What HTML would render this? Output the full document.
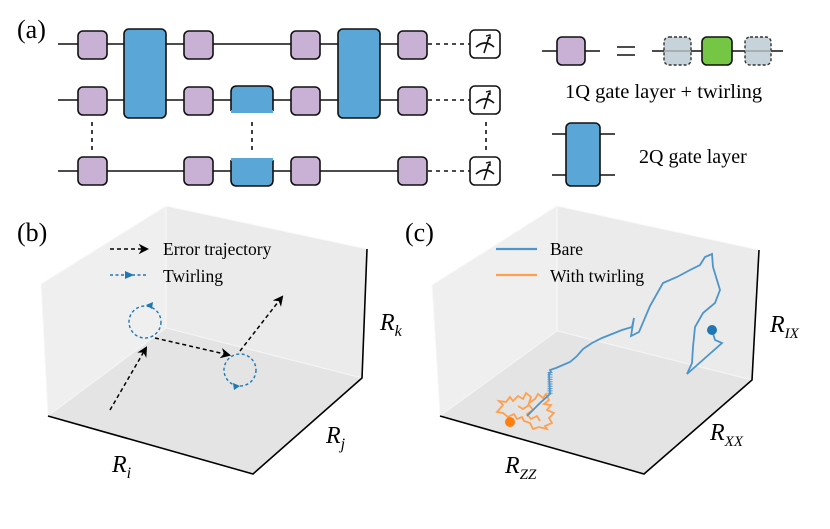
<!DOCTYPE html>
<html><head><meta charset="utf-8"><style>
html,body{margin:0;padding:0;background:#fff;}
svg{display:block;font-family:"Liberation Serif",serif;}
</style></head><body>
<svg width="830" height="529" viewBox="0 0 830 529" xmlns="http://www.w3.org/2000/svg">
<defs>
<g id="pg"><rect x="0" y="0" width="29" height="28" rx="5" fill="#c8b1d5" stroke="#111" stroke-width="1.6"/></g>
<g id="meas"><rect x="0" y="0" width="30" height="28" rx="5" fill="#fff" stroke="#111" stroke-width="1.6"/>
<path d="M6 17 Q15 9 24 17" fill="none" stroke="#111" stroke-width="1.6"/><path d="M14 23 L19 7" stroke="#111" stroke-width="1.6"/><path d="M16 6 L20 5 L20 9" fill="none" stroke="#111" stroke-width="1.4"/></g>
<marker id="ab" viewBox="0 0 10 10" refX="8" refY="5" markerWidth="7" markerHeight="7" orient="auto"><path d="M0 0 L10 5 L0 10 L3 5z" fill="#000"/></marker>
</defs>

<!-- (a) -->
<text x="17" y="38" font-size="26">(a)</text>
<g stroke="#111" stroke-width="1.6">
<line x1="58" y1="44" x2="427" y2="44"/><line x1="58" y1="100" x2="427" y2="100"/><line x1="58" y1="171" x2="427" y2="171"/>
</g>
<g stroke="#111" stroke-width="1.6" stroke-dasharray="4,4">
<line x1="428" y1="44" x2="470" y2="44"/><line x1="428" y1="100" x2="470" y2="100"/><line x1="428" y1="171" x2="470" y2="171"/>
<line x1="92" y1="122" x2="92" y2="152"/><line x1="252" y1="122" x2="252" y2="152"/><line x1="486" y1="122" x2="486" y2="152"/>
</g>
<rect x="124" y="29" width="42" height="89" rx="5" fill="#5aa6d6" stroke="#111" stroke-width="1.6"/>
<rect x="338" y="29" width="42" height="89" rx="5" fill="#5aa6d6" stroke="#111" stroke-width="1.6"/>
<path d="M231 111 L231 92 Q231 86 237 86 L267 86 Q273 86 273 92 L273 111" fill="#5aa6d6" stroke="#111" stroke-width="1.6"/>
<rect x="231" y="110" width="42" height="3" fill="#5aa6d6"/>
<path d="M231 160 L231 180 Q231 186 237 186 L267 186 Q273 186 273 180 L273 160" fill="#5aa6d6" stroke="#111" stroke-width="1.6"/>
<rect x="231" y="158" width="42" height="3" fill="#5aa6d6"/>
<use href="#pg" x="78" y="31"/><use href="#pg" x="184" y="31"/><use href="#pg" x="291" y="31"/><use href="#pg" x="398" y="31"/>
<use href="#pg" x="78" y="87"/><use href="#pg" x="184" y="87"/><use href="#pg" x="291" y="87"/><use href="#pg" x="398" y="87"/>
<use href="#pg" x="78" y="157"/><use href="#pg" x="184" y="157"/><use href="#pg" x="291" y="157"/><use href="#pg" x="398" y="157"/>
<use href="#meas" x="470" y="30"/><use href="#meas" x="470" y="86"/><use href="#meas" x="470" y="157"/>

<!-- legend (a) -->
<line x1="542" y1="51" x2="600" y2="51" stroke="#111" stroke-width="1.6"/>
<rect x="557" y="37" width="28" height="28" rx="5" fill="#c8b1d5" stroke="#111" stroke-width="1.6"/>
<line x1="617" y1="47" x2="635" y2="47" stroke="#111" stroke-width="1.4"/><line x1="617" y1="55" x2="635" y2="55" stroke="#111" stroke-width="1.4"/>
<line x1="652" y1="51" x2="783" y2="51" stroke="#111" stroke-width="1.6"/>
<rect x="664" y="37" width="27" height="28" rx="5" fill="#c7d3da" stroke="#333" stroke-width="1.4" stroke-dasharray="3,2"/>
<line x1="664" y1="51" x2="691" y2="51" stroke="#999" stroke-width="1.2"/>
<rect x="702" y="37" width="30" height="28" rx="5" fill="#76c645" stroke="#111" stroke-width="1.6"/>
<rect x="745" y="37" width="26" height="28" rx="5" fill="#c7d3da" stroke="#333" stroke-width="1.4" stroke-dasharray="3,2"/>
<line x1="745" y1="51" x2="771" y2="51" stroke="#999" stroke-width="1.2"/>
<text x="565" y="98" font-size="20.5">1Q gate layer + twirling</text>
<line x1="552" y1="134" x2="615" y2="134" stroke="#111" stroke-width="1.6"/><line x1="552" y1="175" x2="615" y2="175" stroke="#111" stroke-width="1.6"/>
<rect x="566" y="123" width="34" height="63" rx="5" fill="#5aa6d6" stroke="#111" stroke-width="1.6"/>
<text x="639" y="163" font-size="20">2Q gate layer</text>

<!-- (b) -->
<text x="17" y="241" font-size="26">(b)</text>
<polygon points="41,284 166,206 166,328 48,416" fill="#efefef" stroke="#f8f8f8"/>
<polygon points="166,206 367,249 362,378 166,328" fill="#ebebeb" stroke="#f8f8f8"/>
<polygon points="48,416 166,328 362,378 253,474" fill="#e4e4e4" stroke="#f4f4f4"/>
<g stroke="#000" stroke-width="1.6" fill="none"><polyline points="48,416 253,474 362,378 367,249"/></g>
<g stroke="#000" stroke-width="1.5" stroke-dasharray="4,3" fill="none">
<line x1="110" y1="410" x2="146" y2="348" marker-end="url(#ab)"/>
<line x1="155" y1="338" x2="229" y2="355" marker-end="url(#ab)"/>
<line x1="240" y1="351" x2="282" y2="297" marker-end="url(#ab)"/>
<line x1="110" y1="249" x2="147" y2="249" marker-end="url(#ab)"/>
</g>
<g stroke="#1f77b4" stroke-width="1.4" stroke-dasharray="3,2.5" fill="none">
<circle cx="145" cy="322" r="16"/><circle cx="240" cy="370" r="16"/>
<line x1="110" y1="275" x2="148" y2="275"/>
</g>
<path d="M146 305 L153 302 L152 309z" fill="#1f77b4"/>
<path d="M240 386 L233 383 L234 390z" fill="#1f77b4"/>
<path d="M125 271 L134 275 L125 279z" fill="#1f77b4"/>
<text x="163" y="255" font-size="17.5">Error trajectory</text>
<text x="163" y="282" font-size="17.5">Twirling</text>
<text x="380" y="330" font-size="24" font-style="italic">R<tspan font-size="16" dy="6">k</tspan></text>
<text x="326" y="443" font-size="24" font-style="italic">R<tspan font-size="16" dy="6">j</tspan></text>
<text x="112" y="472" font-size="24" font-style="italic">R<tspan font-size="16" dy="6">i</tspan></text>

<!-- (c) -->
<text x="405" y="241" font-size="26">(c)</text>
<polygon points="432,285 557,206 557,331 440,416" fill="#efefef" stroke="#f8f8f8"/>
<polygon points="557,206 759,250 752,380 557,331" fill="#ebebeb" stroke="#f8f8f8"/>
<polygon points="440,416 557,331 752,380 644,474" fill="#e4e4e4" stroke="#f4f4f4"/>
<g stroke="#000" stroke-width="1.6" fill="none"><polyline points="440,416 644,474 752,380 759,250"/></g>
<line x1="496" y1="249" x2="537" y2="249" stroke="#4e95cc" stroke-width="2.2"/>
<line x1="496" y1="275" x2="537" y2="275" stroke="#ffa04f" stroke-width="2.2"/>
<text x="550" y="255" font-size="17.5">Bare</text>
<text x="550" y="282" font-size="17.5">With twirling</text>
<path d="M497 412 L503 405 L499 401 L506 402 L510 397 L513 401 L518 396 L523 399 L526 393 L531 397 L529 403 L535 399 L538 394 L543 398 L546 394 L549 400 L544 404 L551 405 L547 410 L554 413 L549 418 L552 423 L545 426 L547 429 L539 427 L533 429 L530 423 L524 421 L522 417 L517 419 L514 414 L508 417 L503 413 Z M518 406 L523 409 L529 405 L533 410 L527 414 L531 419 L537 416 L540 421" fill="none" stroke="#ffa04f" stroke-width="1.8"/>
<path d="M527 416 L540 403 L550 394 L549 374 L551 372 L550 370 L556 368 L570 362 L577 356 L583 349 L592 343 L602 338 L612 334 L622 330 L632 327 L634 318 L631 336 L639 332 L650 306 L663 283 L677 277 L690 270 L700 265 L705 257 L712 254 L713 267 L720 290 L715 303 L703 313 L695 327 L693 347 L692 363 L687 374 L722 343 L715 340 L712 330" fill="none" stroke="#4e95cc" stroke-width="1.8"/>
<line x1="550" y1="372" x2="550" y2="394" stroke="#4e95cc" stroke-width="5" stroke-dasharray="1,1.3"/>
<circle cx="712" cy="330" r="5" fill="#1f77b4"/>
<circle cx="510" cy="422" r="5" fill="#ff7f0e"/>
<text x="770" y="332" font-size="24" font-style="italic">R<tspan font-size="15" dy="6">IX</tspan></text>
<text x="710" y="440" font-size="24" font-style="italic">R<tspan font-size="15" dy="6">XX</tspan></text>
<text x="505" y="473" font-size="24" font-style="italic">R<tspan font-size="15" dy="6">ZZ</tspan></text>
</svg>
</body></html>
